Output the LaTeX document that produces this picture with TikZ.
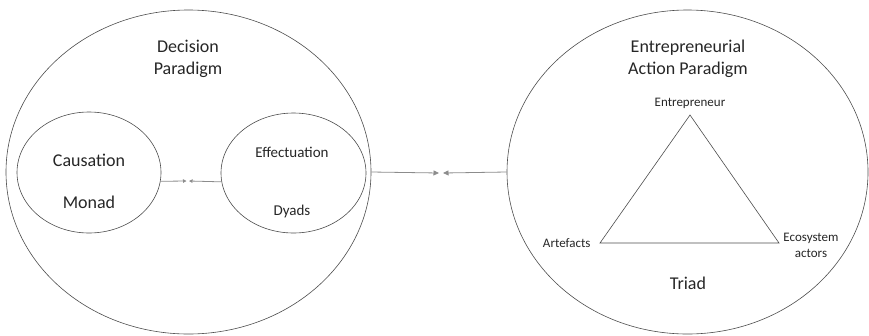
\documentclass[tikz,border=0pt]{standalone}
\usepackage{fontspec}
\setmainfont{Carlito}
\usetikzlibrary{shapes.geometric,arrows.meta}

\begin{document}
\begin{tikzpicture}[x=1pt, y=-1pt]
    \tikzstyle{paradigm} = [ellipse,draw=black!70,line width=0.6pt,inner sep=0pt]
    \tikzstyle{big label} = [text=black!85,align=center,font=\fontsize{18}{21.5}\selectfont]
    \tikzstyle{mid label} = [text=black!85,align=center,font=\fontsize{15}{18}\selectfont]
    \tikzstyle{small label} = [text=black!85,align=center,font=\fontsize{13}{16}\selectfont]
    \tikzstyle{link} = [draw=black!45,line width=0.8pt]
    \tikzstyle{link big} = [link, -{Triangle[length=5.5pt,width=5pt]}]
    \tikzstyle{link small} = [link, -{Triangle[length=3.5pt,width=3.5pt]}]
\useasboundingbox (0,0) rectangle (869,335);
% outer paradigms
\node[paradigm, minimum width=365pt, minimum height=324pt] (dp) at (188.5,172) {};
\node[paradigm, minimum width=361pt, minimum height=324pt] (ap) at (687.5,172) {};
\node[big label] (dptitle) at (188,59) {Decision\\Paradigm};
\node[big label] (aptitle) at (688,59) {Entrepreneurial\\Action Paradigm};
% causation / effectuation
\node[paradigm, minimum width=144pt, minimum height=121pt] (cm) at (89,172.5) {};
\node[paradigm, minimum width=145pt, minimum height=120pt] (ed) at (293.5,173) {};
\node[big label] (causation) at (89,160) {Causation};
\node[big label] (monad) at (89,202) {Monad};
\node[mid label] (effectuation) at (292,152) {Effectuation};
\node[mid label] (dyads) at (292,211) {Dyads};
\coordinate (cmtip) at (186.5,181);
\coordinate (edtip) at (189,181);
\draw[link small] (cm.-7) -- (cmtip);
\draw[link small] (ed.187) -- (edtip);
% between the paradigms
\coordinate (dptip) at (439,173);
\coordinate (aptip) at (443,173);
\draw[link big] (dp.east) -- (dptip);
\draw[link big] (ap.west) -- (aptip);
% triad
\coordinate (ent) at (690,115);
\coordinate (art) at (600,243);
\coordinate (eco) at (779,243);
\draw[draw=black!70, line width=0.6pt] (ent) -- (eco) -- (art) -- cycle;
\node[small label, anchor=south] (entlabel) at (ent) [yshift=3pt] {Entrepreneur};
\node[small label, anchor=east] (artlabel) at (art) [xshift=-6pt] {Artefacts};
\node[small label] (ecolabel) at (811,245) {Ecosystem\\actors};
\node[big label] (triad) at (688,283) {Triad};
\end{tikzpicture}
\end{document}
